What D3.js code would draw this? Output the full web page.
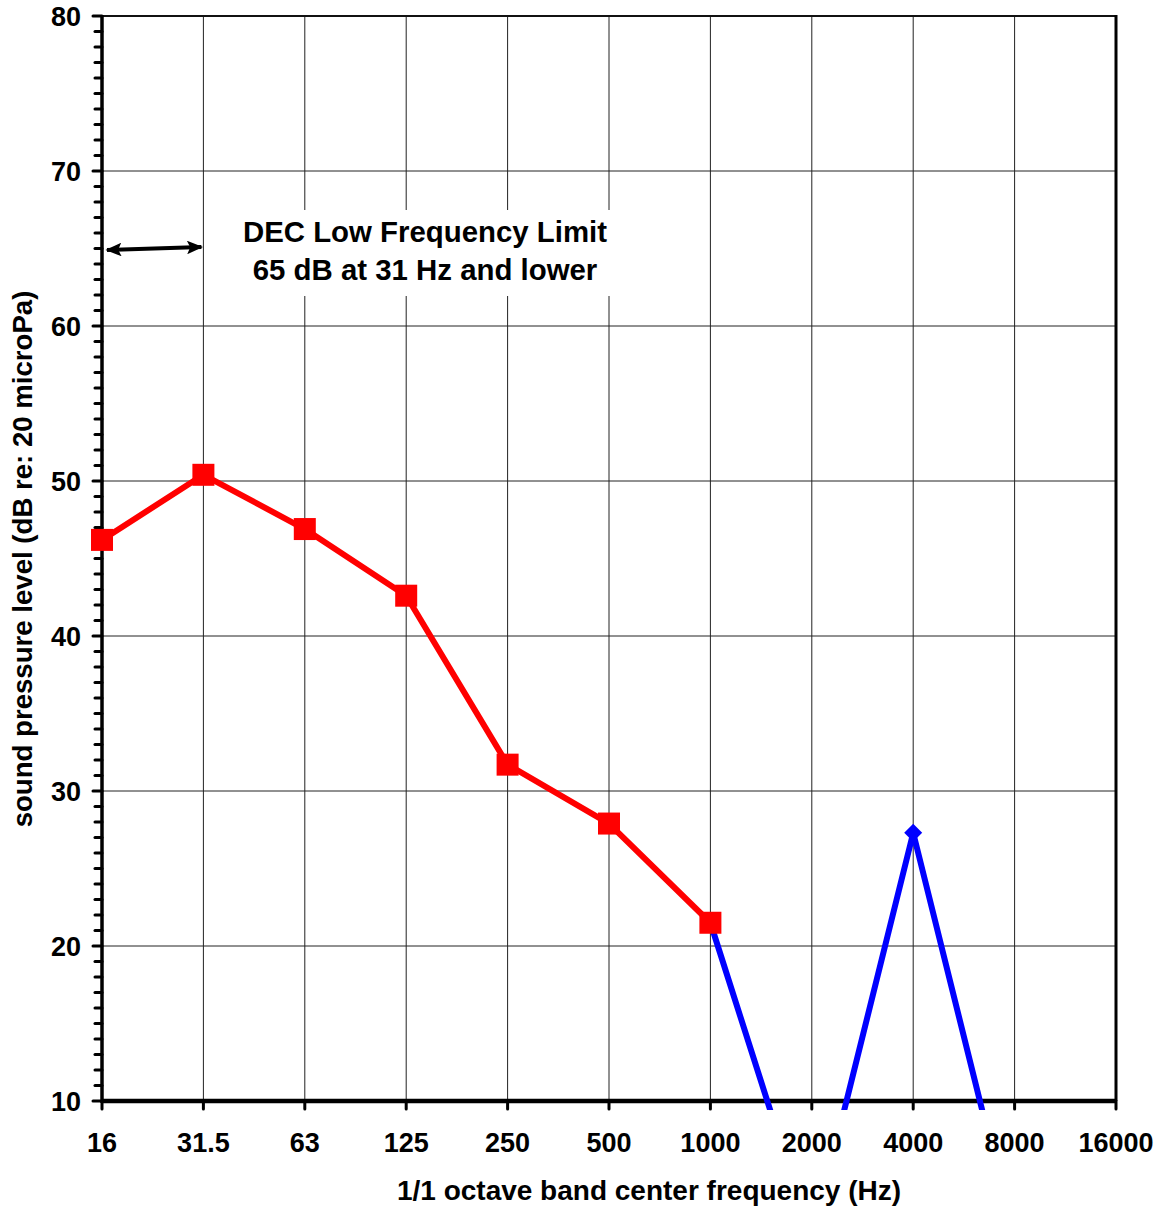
<!DOCTYPE html>
<html>
<head>
<meta charset="utf-8">
<script src="https://cdn.jsdelivr.net/npm/d3@7"></script>
<style>
  html, body { margin: 0; padding: 0; background: #fff; }
  svg { display: block; font-family: "Liberation Sans", Arial, sans-serif; font-weight: bold; }
</style>
</head>
<body>
<svg id="chart" width="1162" height="1210"></svg>
<script>
// Octave band centre frequencies (Hz)
const bands = ["16", "31.5", "63", "125", "250", "500", "1000", "2000", "4000", "8000", "16000"];

// Measured sound pressure levels, low-frequency bands (dB)
const lowBands = ["16", "31.5", "63", "125", "250", "500", "1000"];
const lowLevels = [46.2, 50.4, 46.9, 42.6, 31.7, 27.9, 21.5];

// Measured sound pressure levels, upper bands (dB)
const highBands = ["1000", "2000", "4000", "8000"];
const highLevels = [21.5, 1.0, 27.3, 1.0];

// Y axis ticks (dB)
const yTicks = [10, 20, 30, 40, 50, 60, 70, 80];

// Limit annotation
const limitLevel = 65;
const limitText = ["DEC Low Frequency Limit", "65 dB at 31 Hz and lower"];

const svg = d3.select("#chart");
const plotLeft = 102, plotRight = 1116, plotTop = 16, plotBottom = 1101;

const x = d3.scalePoint().domain(bands).range([plotLeft, plotRight]);
const y = d3.scaleLinear().domain([10, 80]).range([plotBottom, plotTop]);

// Gridlines
const grid = svg.append("g");
grid.selectAll("line.v").data(bands.slice(1, -1)).join("line")
  .attr("class", "v")
  .attr("x1", d => x(d)).attr("x2", d => x(d))
  .attr("y1", plotTop).attr("y2", plotBottom)
  .attr("stroke", "#222").attr("stroke-width", 1);
grid.selectAll("line.h").data(yTicks.slice(1, -1)).join("line")
  .attr("class", "h")
  .attr("x1", plotLeft).attr("x2", plotRight)
  .attr("y1", d => y(d)).attr("y2", d => y(d))
  .attr("stroke", "#222").attr("stroke-width", 1);

// Top and right frame
svg.append("line").attr("x1", plotLeft).attr("x2", plotRight + 1)
  .attr("y1", y(80)).attr("y2", y(80)).attr("stroke", "#111").attr("stroke-width", 2);
svg.append("line").attr("x1", plotRight).attr("x2", plotRight)
  .attr("y1", plotTop - 1).attr("y2", plotBottom).attr("stroke", "#000").attr("stroke-width", 3);

// White panel behind the annotation text
svg.append("rect").attr("x", 232).attr("y", 210).attr("width", 388).attr("height", 86)
  .attr("fill", "#fff");

// Y axis with 1 dB minor ticks
const yAxisG = svg.append("g");
yAxisG.selectAll("line.minor").data(d3.range(10, 81, 1)).join("line")
  .attr("class", "minor")
  .attr("x1", d => (d % 10 === 0 ? plotLeft - 9 : plotLeft - 7)).attr("x2", plotLeft)
  .attr("y1", d => y(d)).attr("y2", d => y(d))
  .attr("stroke", "#000").attr("stroke-width", 3).attr("stroke-linecap", "round");
yAxisG.append("line").attr("x1", plotLeft).attr("x2", plotLeft)
  .attr("y1", plotTop - 1).attr("y2", plotBottom + 2)
  .attr("stroke", "#000").attr("stroke-width", 3.5);
yAxisG.selectAll("text").data(yTicks).join("text")
  .attr("x", 81).attr("y", d => y(d)).attr("dy", "0.36em")
  .attr("text-anchor", "end").attr("font-size", 27).text(d => d);

// X axis
const xAxisG = svg.append("g");
xAxisG.append("line").attr("x1", plotLeft).attr("x2", plotRight + 1)
  .attr("y1", plotBottom).attr("y2", plotBottom)
  .attr("stroke", "#000").attr("stroke-width", 4.5);
xAxisG.selectAll("line.tick").data(bands).join("line")
  .attr("class", "tick")
  .attr("x1", d => x(d)).attr("x2", d => x(d))
  .attr("y1", plotBottom).attr("y2", plotBottom + 8)
  .attr("stroke", "#000").attr("stroke-width", 3).attr("stroke-linecap", "round");
xAxisG.selectAll("text").data(bands).join("text")
  .attr("x", d => x(d)).attr("y", 1152)
  .attr("text-anchor", "middle").attr("font-size", 27).text(d => d);

// Axis titles
svg.append("text").attr("x", 649).attr("y", 1200).attr("text-anchor", "middle")
  .attr("font-size", 28).text("1/1 octave band center frequency (Hz)");
svg.append("text").attr("transform", "translate(32,559) rotate(-90)")
  .attr("text-anchor", "middle").attr("font-size", 27.6)
  .text("sound pressure level (dB re: 20 microPa)");

// Annotation text
svg.append("g").selectAll("text").data(limitText).join("text")
  .attr("x", 425).attr("y", (d, i) => 242 + i * 38)
  .attr("text-anchor", "middle").attr("font-size", 29.4).text(d => d);

// Double-headed arrow spanning the limited bands at the limit level
const defs = svg.append("defs");
defs.append("marker").attr("id", "head").attr("viewBox", "0 0 10 10")
  .attr("refX", 9).attr("refY", 5).attr("markerWidth", 4).attr("markerHeight", 3.4)
  .attr("markerUnits", "strokeWidth").attr("orient", "auto-start-reverse")
  .attr("preserveAspectRatio", "none")
  .append("path").attr("d", "M0,0 L10,5 L0,10 L2,5 Z").attr("fill", "#000");
svg.append("line")
  .attr("x1", x("16") + 5).attr("y1", y(limitLevel) + 1.5)
  .attr("x2", x("31.5") - 2).attr("y2", y(limitLevel) - 1.5)
  .attr("stroke", "#000").attr("stroke-width", 4)
  .attr("marker-start", "url(#head)").attr("marker-end", "url(#head)");

// Clip series to the plotting area
defs.append("clipPath").attr("id", "plotClip")
  .append("rect").attr("x", 0).attr("y", 0).attr("width", 1162).attr("height", 1110);

const line = d3.line().x(d => x(d[0])).y(d => y(d[1]));
const series = svg.append("g").attr("clip-path", "url(#plotClip)");

// Upper bands: blue line with diamond markers
const highData = highBands.map((b, i) => [b, highLevels[i]]);
series.append("path").datum(highData).attr("d", line)
  .attr("fill", "none").attr("stroke", "#0000ff").attr("stroke-width", 6)
  .attr("stroke-linejoin", "miter");
series.selectAll("path.diamond").data(highData).join("path")
  .attr("class", "diamond")
  .attr("d", "M0,-9 L9,0 L0,9 L-9,0 Z")
  .attr("transform", d => `translate(${x(d[0])},${y(d[1])})`)
  .attr("fill", "#0000ff");

// Low-frequency bands: red line with square markers
const lowData = lowBands.map((b, i) => [b, lowLevels[i]]);
series.append("path").datum(lowData).attr("d", line)
  .attr("fill", "none").attr("stroke", "#ff0000").attr("stroke-width", 6)
  .attr("stroke-linejoin", "round");
series.selectAll("rect.sq").data(lowData).join("rect")
  .attr("class", "sq")
  .attr("x", d => x(d[0]) - 11).attr("y", d => y(d[1]) - 11)
  .attr("width", 22).attr("height", 22)
  .attr("fill", "#ff0000");
</script>
</body>
</html>
